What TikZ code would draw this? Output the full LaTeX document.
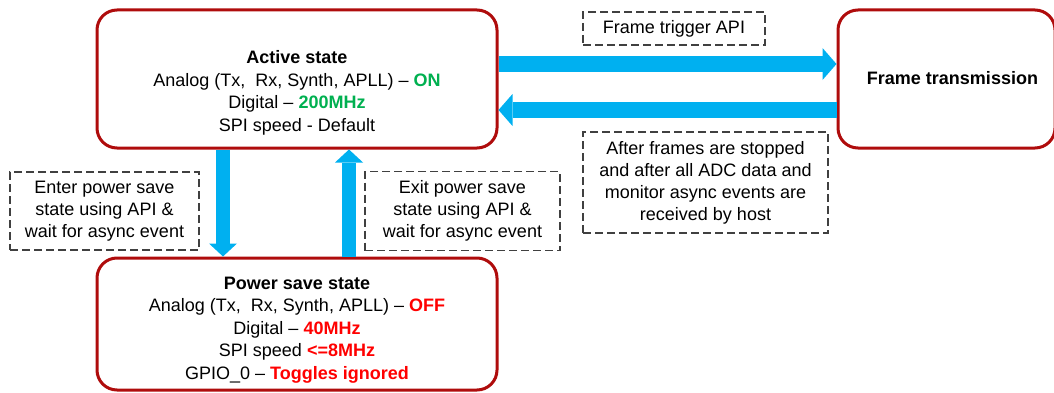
\documentclass[tikz,border=0pt]{standalone}
\usepackage{fontspec}
\setmainfont{Liberation Sans}
\usepackage{xcolor}
\usetikzlibrary{arrows.meta, positioning}

\definecolor{boxred}{RGB}{175,12,12}
\definecolor{flowblue}{RGB}{0,176,240}
\definecolor{ongreen}{RGB}{0,176,80}
\definecolor{offred}{RGB}{255,0,0}

\begin{document}
\begin{tikzpicture}[
x=1pt, y=1pt,
state/.style={rectangle, rounded corners=20pt, draw=boxred, line width=3pt, minimum width=400pt, minimum height=138pt},
statetext/.style={align=center, font=\fontsize{18}{22.6}\selectfont},
note/.style={rectangle, draw=black!75, line width=1.2pt, dash pattern=on 8pt off 4pt, align=center, font=\fontsize{18}{22}\selectfont, inner sep=0pt},
hflow/.style={draw=flowblue, line width=16pt, -{Triangle[length=14pt, width=32pt, line width=0pt]}},
vflow/.style={draw=flowblue, line width=14pt, -{Triangle[length=13pt, width=28pt, line width=0pt]}}
]
\useasboundingbox (0,0) rectangle (1054,392);

\node[state] (active) at (297,313) {};
\node[state, right=338pt of active, minimum width=217pt] (frame) {};
\node[state, below=107pt of active, minimum height=132pt] (power) {};

\node[statetext] (activetext) at ([yshift=-14pt]active.center) {\textbf{Active state}\\Analog (Tx,\ \ Rx, Synth, APLL) – \textcolor{ongreen}{\textbf{ON}}\\Digital – \textcolor{ongreen}{\textbf{200MHz}}\\SPI speed - Default};
\node[statetext] (frametext) at ([xshift=6pt, yshift=1pt]frame.center) {\textbf{Frame transmission}};
\node[statetext] (powertext) at ([yshift=-6pt]power.center) {\textbf{Power save state}\\Analog (Tx,\ \ Rx, Synth, APLL) – \textcolor{offred}{\textbf{OFF}}\\Digital – \textcolor{offred}{\textbf{40MHz}}\\SPI speed \textcolor{offred}{\textbf{<=8MHz}}\\GPIO\_0 – \textcolor{offred}{\textbf{Toggles ignored}}};

\node[note, minimum width=182pt, minimum height=33pt] (trigger) at (674,363.5) {Frame trigger API};
\node[note, minimum width=245pt, minimum height=101pt] (stopped) at (705.5,209.5) {After frames are stopped\\and after all ADC data and\\monitor async events are\\received by host};
\node[note, minimum width=189pt, minimum height=78pt] (enter) at (104.5,181) {Enter power save\\state using API \&\\wait for async event};
\node[note, minimum width=195pt, minimum height=79pt] (exit) at (462.5,181) {Exit power save\\state using API \&\\wait for async event};

\draw[hflow] ([yshift=15pt]active.east) -- ([yshift=15pt]active.east -| frame.west);
\draw[hflow] ([yshift=-31pt]frame.west) -- ([yshift=-31pt]frame.west -| active.east);
\draw[vflow] ([xshift=-74pt]active.south) -- ([xshift=-74pt]active.south |- power.north);
\draw[vflow] ([xshift=52pt]power.north) -- ([xshift=52pt]power.north |- active.south);

\end{tikzpicture}
\end{document}
